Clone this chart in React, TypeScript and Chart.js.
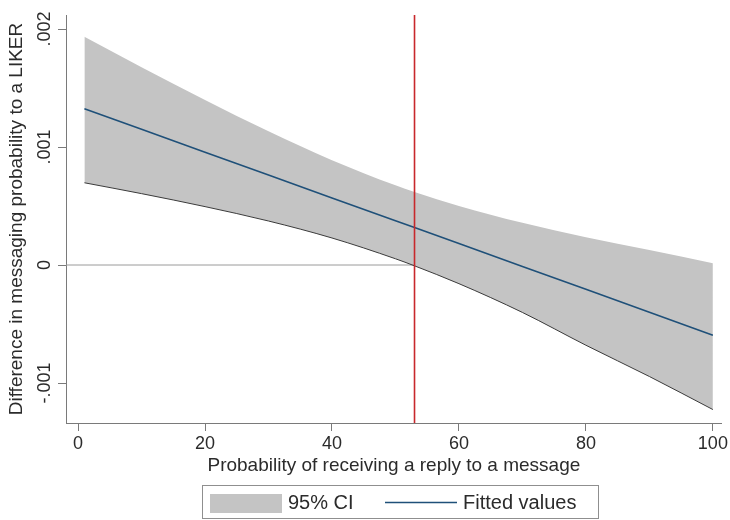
import React, { useEffect, useRef } from "react";
import { Chart, registerables } from "chart.js";

Chart.register(...registerables);

// ---- data ----
const xValues = [1, 10, 20, 30, 40, 50, 53, 60, 70, 80, 90, 100];
const fittedValues = [0.001324, 0.00115, 0.000956, 0.000763, 0.000569, 0.000375, 0.000317, 0.000182, -0.000012, -0.000206, -0.0004, -0.000595];
const ciUpper = [0.001934, 0.001677, 0.001398, 0.001133, 0.000888, 0.000675, 0.000619, 0.000501, 0.000358, 0.000236, 0.000127, 0.000015];
const ciLower = [0.000697, 0.000605, 0.000495, 0.000373, 0.000229, 0.000053, -0.000007, -0.000158, -0.000402, -0.00068, -0.000945, -0.001225];
const cutoffX = 53;
const xTicks = [0, 20, 40, 60, 80, 100];
const xTickLabels = ["0", "20", "40", "60", "80", "100"];
const yTicks = [-0.001, 0, 0.001, 0.002];
const yTickLabels = ["-.001", "0", ".001", ".002"];
const X_MIN = -1.9;
const X_MAX = 101.4;
const Y_MIN = -0.001339;
const Y_MAX = 0.002119;
const xTitle = "Probability of receiving a reply to a message";
const yTitle = "Difference in messaging probability to a LIKER";
const legendLabels = ["95% CI", "Fitted values"];

const FONT = "'Liberation Sans', Arial, Helvetica, sans-serif";
const TEXT = "#2b2b2b";
const AXIS = "#7a7a7a";
const BAND = "#c4c4c4";
const FIT = "#1f5079";
const RED = "#c8282c";

const textPlugin = {
  id: "stataText",
  afterDraw(chart: any) {
    const ctx = chart.ctx as CanvasRenderingContext2D;
    const ys = chart.scales.y;
    const area = chart.chartArea;
    ctx.save();
    ctx.fillStyle = TEXT;
    // y tick labels, rotated
    ctx.font = `18px ${FONT}`;
    ctx.textAlign = "center";
    ctx.textBaseline = "middle";
    yTicks.forEach((v, i) => {
      const py = ys.getPixelForValue(v);
      ctx.save();
      ctx.translate(45, py);
      ctx.rotate(-Math.PI / 2);
      ctx.fillText(yTickLabels[i], 0, 0);
      ctx.restore();
    });
    // y title
    ctx.font = `19px ${FONT}`;
    ctx.save();
    ctx.translate(17, (area.top + area.bottom) / 2);
    ctx.rotate(-Math.PI / 2);
    ctx.fillText(yTitle, 0, 0);
    ctx.restore();
    // x title
    ctx.fillText(xTitle, (area.left + area.right) / 2, 466);

    // legend
    const bx = 202.5, by = 485.5, bw = 396, bh = 33;
    ctx.strokeStyle = "#8f8f8f";
    ctx.lineWidth = 1;
    ctx.strokeRect(bx, by, bw, bh);
    ctx.fillStyle = BAND;
    ctx.fillRect(210, 494, 72, 19);
    ctx.fillStyle = TEXT;
    ctx.font = `20px ${FONT}`;
    ctx.textAlign = "left";
    ctx.fillText(legendLabels[0], 288, 503);
    ctx.strokeStyle = FIT;
    ctx.lineWidth = 1.6;
    ctx.beginPath();
    ctx.moveTo(385, 502.5);
    ctx.lineTo(457, 502.5);
    ctx.stroke();
    ctx.fillText(legendLabels[1], 463, 503);
    ctx.restore();
  },
};

export default function App() {
  const ref = useRef<HTMLCanvasElement | null>(null);
  useEffect(() => {
    document.body.style.margin = "0";
    const canvas = ref.current;
    if (!canvas) return;
    const pts = (ys: number[]) => xValues.map((x, i) => ({ x, y: ys[i] }));
    const chart = new Chart(canvas, {
      type: "line",
      data: {
        datasets: [
          {
            label: legendLabels[0],
            data: pts(ciUpper),
            borderWidth: 0,
            borderColor: BAND,
            backgroundColor: BAND,
            pointRadius: 0,
            fill: "+1",
            cubicInterpolationMode: "monotone",
            order: 5,
          },
          {
            label: "lower",
            data: pts(ciLower),
            borderWidth: 1,
            borderColor: "#3a3a3a",
            backgroundColor: BAND,
            pointRadius: 0,
            fill: false,
            cubicInterpolationMode: "monotone",
            order: 3,
          },
          {
            label: legendLabels[1],
            data: pts(fittedValues),
            borderWidth: 1.6,
            borderColor: FIT,
            pointRadius: 0,
            fill: false,
            order: 2,
          },
          {
            label: "zero",
            data: [
              { x: X_MIN, y: 0 },
              { x: cutoffX, y: 0 },
            ],
            borderWidth: 1,
            borderColor: "#9a9a9a",
            pointRadius: 0,
            fill: false,
            order: 4,
          },
          {
            label: "cutoff",
            data: [
              { x: cutoffX, y: Y_MIN },
              { x: cutoffX, y: Y_MAX },
            ],
            borderWidth: 1.6,
            borderColor: RED,
            pointRadius: 0,
            fill: false,
            order: 1,
          },
        ],
      },
      options: {
        responsive: false,
        animation: false,
        events: [],
        layout: { padding: { top: 15, right: 8, left: 0, bottom: 0 } },
        plugins: { legend: { display: false }, tooltip: { enabled: false } },
        scales: {
          x: {
            type: "linear",
            min: X_MIN,
            max: X_MAX,
            afterBuildTicks: (s: any) => {
              s.ticks = xTicks.map((v) => ({ value: v }));
            },
            afterFit: (s: any) => {
              s.height = 97;
            },
            ticks: {
              autoSkip: false,
              maxRotation: 0,
              padding: 2,
              color: TEXT,
              font: { family: FONT, size: 18 },
              callback: (v: any) => {
                const i = xTicks.indexOf(Number(v));
                return i >= 0 ? xTickLabels[i] : "";
              },
            },
            grid: { display: true, drawOnChartArea: false, drawTicks: true, tickLength: 8, color: AXIS },
            border: { display: true, color: AXIS, width: 1 },
          },
          y: {
            type: "linear",
            min: Y_MIN,
            max: Y_MAX,
            afterBuildTicks: (s: any) => {
              s.ticks = yTicks.map((v) => ({ value: v }));
            },
            afterFit: (s: any) => {
              s.width = 66;
            },
            ticks: { display: false },
            grid: { display: true, drawOnChartArea: false, drawTicks: true, tickLength: 8, color: AXIS },
            border: { display: true, color: AXIS, width: 1 },
          },
        },
      },
      plugins: [textPlugin],
    } as any);
    return () => chart.destroy();
  }, []);
  return (
    <div style={{ width: 730, height: 520, position: "relative", background: "#fff" }}>
      <canvas ref={ref} width={730} height={520} style={{ width: 730, height: 520, display: "block" }} />
    </div>
  );
}
